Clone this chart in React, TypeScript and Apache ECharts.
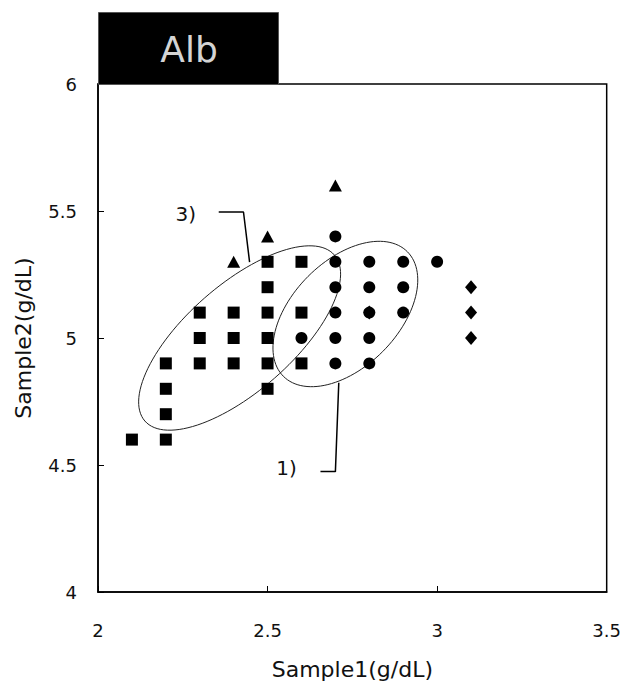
import React, { useEffect, useRef } from "react";
import * as echarts from "echarts";

// Axis ticks
const xTicks = [2, 2.5, 3, 3.5];
const yTicks = [4, 4.5, 5, 5.5, 6];

// Group markers (Sample1, Sample2)
const circlePts: number[][] = [
  [2.6, 5.0],
  [2.7, 5.4], [2.7, 5.3], [2.7, 5.2], [2.7, 5.1], [2.7, 5.0], [2.7, 4.9],
  [2.8, 5.3], [2.8, 5.2], [2.8, 5.1], [2.8, 5.0], [2.8, 4.9],
  [2.9, 5.3], [2.9, 5.2], [2.9, 5.1],
  [3.0, 5.3],
];
const squarePts: number[][] = [
  [2.1, 4.6],
  [2.2, 4.6], [2.2, 4.7], [2.2, 4.8], [2.2, 4.9],
  [2.3, 4.9], [2.3, 5.0], [2.3, 5.1],
  [2.4, 4.9], [2.4, 5.0], [2.4, 5.1],
  [2.5, 4.8], [2.5, 4.9], [2.5, 5.0], [2.5, 5.1], [2.5, 5.2], [2.5, 5.3],
  [2.6, 4.9], [2.6, 5.1], [2.6, 5.3],
];
const trianglePts: number[][] = [
  [2.4, 5.3], [2.5, 5.4], [2.7, 5.6],
];
const diamondPts: number[][] = [
  [2.8, 5.1], [3.1, 5.2], [3.1, 5.1], [3.1, 5.0],
];

// Ellipses: [centerX, centerY, axis1X, axis1Y, axis2X, axis2Y] in data units
const ellipses: number[][] = [
  [2.4176, 5.0, 0.2794, 0.3268, -0.103, 0.158],
  [2.7294, 5.0945, 0.183, 0.245, -0.11, 0.148],
];

// Leader lines for annotations
const leader3: number[][] = [[2.356, 5.496], [2.429, 5.496], [2.447, 5.299]];
const leader1: number[][] = [[2.656, 4.474], [2.7, 4.474], [2.71, 4.824]];
// Annotation labels [x, y, text]
const annoLabels: (number | string)[][] = [
  [2.259, 5.49, "3)"],
  [2.556, 4.488, "1)"],
];

const FONT = "DejaVu Sans";

export default function App() {
  const ref = useRef<HTMLDivElement>(null);
  useEffect(() => {
    if (!ref.current) return;
    const chart = echarts.init(ref.current, null, { renderer: "svg" });
    const markerBase = {
      type: "scatter" as const,
      itemStyle: { color: "#000", opacity: 1 },
      z: 3,
    };
    chart.setOption({
      animation: false,
      backgroundColor: "#fff",
      grid: {
        left: 98,
        right: 17,
        top: 84,
        bottom: 96,
        show: true,
        borderColor: "#000",
        borderWidth: 1.5,
        backgroundColor: "transparent",
      },
      xAxis: {
        type: "value",
        min: 2,
        max: 3.5,
        interval: 0.5,
        name: "Sample1(g/dL)",
        nameLocation: "middle",
        nameGap: 66,
        nameTextStyle: { fontFamily: FONT, fontSize: 22, color: "#111" },
        axisLine: { show: true, lineStyle: { color: "#000", width: 1.5 } },
        axisTick: { show: true, inside: true, length: 6, lineStyle: { color: "#000" } },
        axisLabel: {
          fontFamily: FONT,
          fontSize: 18,
          color: "#111",
          margin: 29,
          formatter: (v: number) => (xTicks.includes(v) ? String(v) : ""),
        },
        splitLine: { show: false },
      },
      yAxis: {
        type: "value",
        min: 4,
        max: 6,
        interval: 0.5,
        name: "Sample2(g/dL)",
        nameLocation: "middle",
        nameGap: 64,
        nameTextStyle: { fontFamily: FONT, fontSize: 22, color: "#111" },
        axisLine: { show: true, lineStyle: { color: "#000", width: 1.5 } },
        axisTick: { show: true, inside: true, length: 6, lineStyle: { color: "#000" } },
        axisLabel: {
          fontFamily: FONT,
          fontSize: 18,
          color: "#111",
          margin: 21,
          formatter: (v: number) => (yTicks.includes(v) ? String(v) : ""),
        },
        splitLine: { show: false },
      },
      graphic: [
        {
          type: "rect",
          left: 98,
          top: 12,
          shape: { width: 180, height: 72 },
          style: { fill: "#000", stroke: "#555", lineWidth: 1 },
          z: 10,
        },
        {
          type: "text",
          x: 189,
          y: 49,
          style: {
            text: "Alb",
            fontFamily: FONT,
            fontSize: 36,
            fill: "#d4d4d4",
            align: "center",
            verticalAlign: "middle",
          },
          z: 11,
        },
      ],
      series: [
        {
          type: "custom",
          coordinateSystem: "cartesian2d",
          clip: false,
          data: ellipses,
          encode: { x: 0, y: 1 },
          renderItem: (params: any, api: any) => {
            const cx = api.value(0), cy = api.value(1);
            const ux = api.value(2), uy = api.value(3);
            const vx = api.value(4), vy = api.value(5);
            const pts: number[][] = [];
            const n = 120;
            for (let i = 0; i < n; i++) {
              const t = (i / n) * Math.PI * 2;
              const c = Math.cos(t), s = Math.sin(t);
              pts.push(api.coord([cx + c * ux + s * vx, cy + c * uy + s * vy]));
            }
            return {
              type: "polygon",
              shape: { points: pts },
              style: { fill: "none", stroke: "#222", lineWidth: 1 },
              z2: 1,
            };
          },
          z: 2,
        },
        {
          type: "line",
          data: leader3,
          symbol: "none",
          lineStyle: { color: "#000", width: 1.5 },
          z: 2,
        },
        {
          type: "line",
          data: leader1,
          symbol: "none",
          lineStyle: { color: "#000", width: 1.5 },
          z: 2,
        },
        {
          type: "custom",
          coordinateSystem: "cartesian2d",
          clip: false,
          data: annoLabels,
          encode: { x: 0, y: 1 },
          renderItem: (params: any, api: any) => {
            const p = api.coord([api.value(0), api.value(1)]);
            return {
              type: "text",
              x: p[0],
              y: p[1],
              style: {
                text: annoLabels[params.dataIndex][2] as string,
                fontFamily: FONT,
                fontSize: 20,
                fill: "#111",
                align: "center",
                verticalAlign: "middle",
              },
            };
          },
          z: 4,
        },
        { ...markerBase, data: circlePts, symbol: "circle", symbolSize: 12 },
        { ...markerBase, data: squarePts, symbol: "rect", symbolSize: 12 },
        { ...markerBase, data: trianglePts, symbol: "triangle", symbolSize: [13, 12] },
        { ...markerBase, data: diamondPts, symbol: "diamond", symbolSize: [12, 14] },
      ],
    });
    return () => chart.dispose();
  }, []);
  return <div ref={ref} style={{ width: 624, height: 688, position: "absolute", left: 0, top: 0 }} />;
}
